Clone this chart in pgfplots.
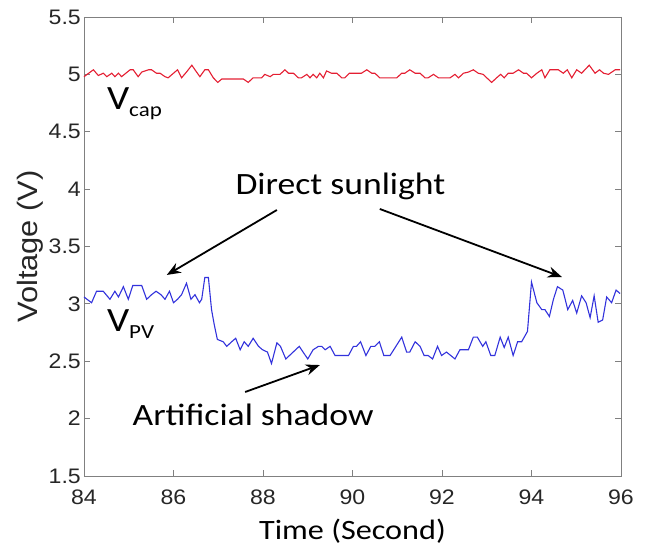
\documentclass[border=0pt]{standalone}
\usepackage{pgfplots}
\pgfplotsset{compat=1.18}
\usetikzlibrary{arrows.meta}
\usepackage{fontspec}
\setmainfont{Liberation Sans}[FakeStretch=1.1]
\newfontfamily\calfont{Carlito}[FakeStretch=1.15]
\definecolor{vcap}{RGB}{228,30,50}
\definecolor{vpv}{RGB}{50,50,220}
\definecolor{axgray}{RGB}{128,128,128}
\definecolor{txt}{RGB}{38,38,38}
\pgfplotstableread{
t v
84.00 4.98
84.21 5.04
84.32 4.99
84.43 5.01
84.51 4.98
84.62 5.01
84.69 4.98
84.77 5.01
84.84 4.98
85.03 5.04
85.10 5.04
85.21 4.98
85.29 5.02
85.44 5.04
85.51 5.04
85.62 5.01
85.70 5.01
85.81 4.98
85.88 4.97
86.00 5.01
86.09 5.04
86.18 4.97
86.29 5.02
86.41 5.08
86.48 5.04
86.59 4.98
86.70 5.04
86.78 5.04
86.89 4.97
86.99 4.93
87.08 4.96
87.56 4.96
87.67 4.93
87.78 4.97
87.97 4.97
88.04 5.00
88.16 4.98
88.23 5.00
88.38 5.00
88.49 5.04
88.57 5.01
88.68 5.01
88.79 4.97
88.86 4.97
88.98 5.00
89.05 4.97
89.12 5.00
89.20 4.97
89.27 5.01
89.35 4.97
89.42 5.03
89.53 5.01
89.65 5.01
89.76 4.97
89.83 4.97
89.93 5.01
90.09 5.01
90.20 5.01
90.32 5.04
90.43 5.01
90.50 5.01
90.61 4.97
90.99 4.97
91.10 5.01
91.17 5.01
91.28 5.04
91.40 5.01
91.51 5.01
91.62 4.97
91.69 4.97
91.81 5.00
91.92 4.97
92.18 4.97
92.29 5.00
92.37 4.97
92.48 5.01
92.59 5.02
92.70 5.04
92.81 5.01
92.92 5.00
93.00 4.97
93.11 4.93
93.22 4.97
93.31 5.00
93.39 4.97
93.48 5.01
93.59 5.01
93.71 5.04
93.82 5.01
93.89 5.01
94.00 4.97
94.12 5.01
94.23 5.04
94.30 4.97
94.41 5.04
94.60 5.04
94.71 5.01
94.80 5.04
94.90 4.97
95.01 5.04
95.12 5.01
95.29 5.08
95.42 5.01
95.52 5.04
95.61 5.01
95.72 5.00
95.87 5.04
95.98 5.04
}\capdata
\pgfplotstableread{
t v
84.00 3.06
84.17 3.01
84.28 3.11
84.43 3.11
84.58 3.04
84.69 3.11
84.77 3.06
84.88 3.15
84.99 3.04
85.09 3.16
85.29 3.16
85.40 3.04
85.51 3.08
85.61 3.11
85.72 3.08
85.81 3.04
85.91 3.11
86.00 3.01
86.09 3.04
86.18 3.08
86.29 3.18
86.39 3.04
86.48 3.08
86.58 3.01
86.63 3.04
86.70 3.23
86.78 3.23
86.85 2.95
86.91 2.82
86.98 2.69
87.11 2.67
87.19 2.63
87.30 2.67
87.39 2.70
87.49 2.60
87.58 2.67
87.67 2.63
87.78 2.70
87.90 2.63
87.99 2.60
88.10 2.58
88.19 2.48
88.31 2.66
88.39 2.63
88.51 2.52
88.81 2.63
89.00 2.52
89.12 2.60
89.24 2.63
89.31 2.63
89.39 2.60
89.50 2.63
89.61 2.55
89.91 2.55
90.02 2.63
90.09 2.63
90.18 2.67
90.30 2.55
90.41 2.63
90.50 2.63
90.60 2.67
90.70 2.55
90.84 2.55
91.10 2.71
91.21 2.58
91.28 2.58
91.40 2.67
91.51 2.63
91.60 2.55
91.69 2.55
91.79 2.52
91.90 2.63
91.99 2.55
92.10 2.58
92.29 2.52
92.40 2.60
92.50 2.60
92.59 2.60
92.70 2.71
92.79 2.71
92.91 2.63
92.98 2.67
93.09 2.55
93.18 2.55
93.30 2.71
93.39 2.62
93.48 2.71
93.59 2.55
93.69 2.67
93.78 2.67
93.91 2.76
94.00 3.19
94.12 3.01
94.23 2.95
94.30 2.95
94.40 2.89
94.49 3.04
94.58 3.15
94.70 3.12
94.81 2.95
94.92 3.03
95.01 2.92
95.12 3.07
95.22 3.01
95.31 2.88
95.40 3.07
95.49 2.84
95.59 2.86
95.68 3.06
95.79 3.01
95.89 3.12
95.98 3.09
}\pvdata
\begin{document}
\begin{tikzpicture}[x=1pt,y=1pt]
\path[use as bounding box] (-84,-73) rectangle (567,476);
\begin{axis}[
  at={(0,0)}, anchor=south west,
  scale only axis, width=537pt, height=459pt,
  xmin=84, xmax=96, ymin=1.5, ymax=5.5,
  xtick={84,86,...,96}, ytick={1.5,2,...,5.5},
  tick align=inside, tick pos=both, major tick length=6pt,
  axis line style={axgray, line width=0.8pt},
  tick style={axgray, line width=0.8pt},
  /pgf/number format/assume math mode=true,
  ticklabel style={font=\fontsize{21}{21}\selectfont, text=txt},
  xticklabel style={yshift=-10pt},
  yticklabel style={inner xsep=3pt},
  xlabel={Time (Second)},
  xlabel style={font=\calfont\fontsize{28}{28}\selectfont, at={(axis description cs:0.5,-0.138)}, anchor=base, inner sep=0pt},
  ylabel={Voltage (V)},
  ylabel style={font=\fontsize{28}{28}\selectfont, text=txt, at={(axis description cs:-0.0875,0.5)}, anchor=base, inner sep=0pt},
  clip=false,
]
\addplot[vcap, line width=1.1pt, mark=none] table[x=t,y=v] {\capdata};
\addplot[vpv, line width=1.1pt, mark=none] table[x=t,y=v] {\pvdata};
\node[anchor=base west, inner sep=0pt] at (axis cs:84.51,4.69) {\calfont\fontsize{34}{34}\selectfont V\raisebox{-7pt}{\fontsize{20}{20}\selectfont cap}};
\node[anchor=base west, inner sep=0pt] at (axis cs:84.51,2.755) {\calfont\fontsize{34}{34}\selectfont V\raisebox{-7pt}{\fontsize{20}{20}\selectfont PV}};
\node[anchor=base, inner sep=0pt] at (axis cs:89.73,3.949) {\calfont\fontsize{31}{31}\selectfont Direct sunlight};
\node[anchor=base, inner sep=0pt] at (axis cs:87.78,1.944) {\calfont\fontsize{31}{31}\selectfont Artificial shadow};
\draw[line width=1.8pt, -{Stealth[length=14pt, width=11pt]}] (axis cs:88.31,3.818) -- (axis cs:85.85,3.252);
\draw[line width=1.8pt, -{Stealth[length=14pt, width=11pt]}] (axis cs:90.61,3.827) -- (axis cs:94.68,3.234);
\draw[line width=1.8pt, -{Stealth[length=14pt, width=11pt]}] (axis cs:87.60,2.232) -- (axis cs:89.27,2.467);
\end{axis}
\end{tikzpicture}
\end{document}
